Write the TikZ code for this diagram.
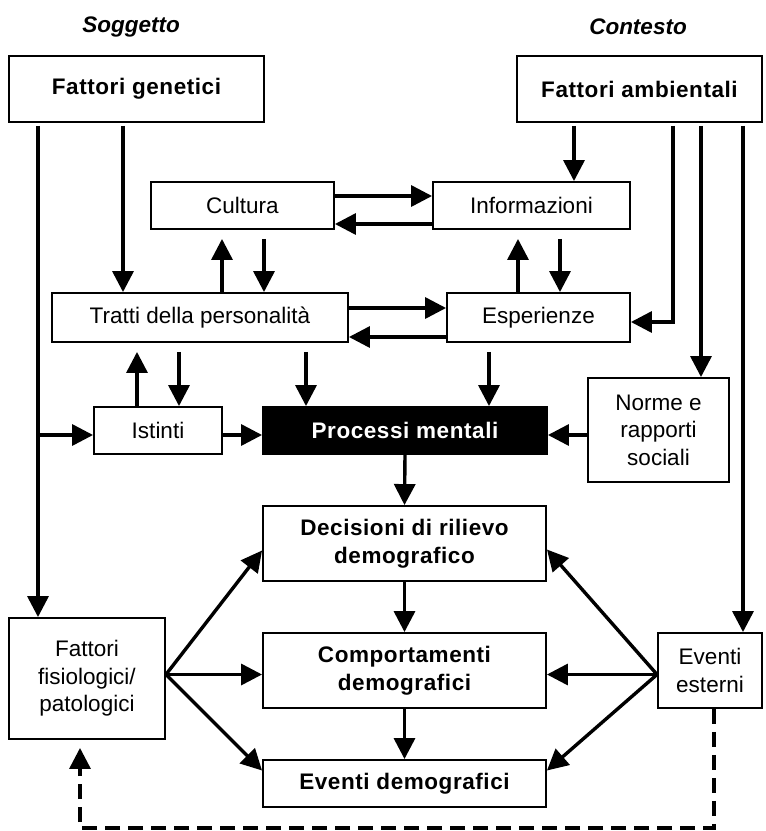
\documentclass[tikz,border=0pt]{standalone}
\usepackage{fontspec}
\setmainfont{Liberation Sans}
\usetikzlibrary{arrows.meta,calc}

\begin{document}
\begin{tikzpicture}[x=1pt,y=-1pt,
  box/.style={draw,line width=1.9pt,inner sep=0pt,align=center,
    font=\fontsize{22.5}{27.5}\selectfont},
  bbox/.style={box,font=\fontsize{22.5}{27.5}\selectfont\bfseries\addfontfeature{LetterSpace=2.5}},
  head/.style={font=\fontsize{22.5}{27.5}\selectfont\bfseries\itshape},
  ar/.style={-{Triangle[length=21pt,width=21pt]},line width=3.4pt}]
\useasboundingbox (0,0) rectangle (766,831);

\node[head] (S) at (131,27) {Soggetto};
\node[head] (K) at (638,27) {Contesto};

\node[bbox,minimum width=255pt,minimum height=66pt] (G) at (136.5,89) {Fattori genetici};
\node[bbox,minimum width=245pt,minimum height=66pt] (Am) at (639.5,89) {Fattori ambientali};
\node[box,minimum width=183pt,minimum height=47pt] (C) at (242.5,205.5) {Cultura};
\node[box,minimum width=197pt,minimum height=47pt] (I) at (531.5,205.5) {Informazioni};
\node[box,minimum width=296pt,minimum height=49pt] (T) at (200,317.5) {Tratti della personalità};
\node[box,minimum width=183pt,minimum height=49pt] (E) at (538.5,317.5) {Esperienze};
\node[box,minimum width=128pt,minimum height=47pt] (Is) at (158,430.5) {Istinti};
\node[bbox,fill=black,text=white,minimum width=284pt,minimum height=47pt] (P) at (405,430.5) {Processi mentali};
\node[box,minimum width=141pt,minimum height=104pt] (N) at (658.5,430) {Norme e\\rapporti\\sociali};
\node[bbox,minimum width=283pt,minimum height=75pt] (D) at (404.5,543.5) {Decisioni di rilievo\\demografico};
\node[bbox,minimum width=283pt,minimum height=75pt] (Co) at (404.5,670.5) {Comportamenti\\demografici};
\node[bbox,minimum width=283pt,minimum height=47pt] (Ev) at (404.5,783.5) {Eventi demografici};
\node[box,minimum width=156pt,minimum height=121pt] (F) at (87,678.5) {Fattori\\fisiologici/\\patologici};
\node[box,minimum width=104pt,minimum height=75pt] (X) at (710,670.5) {Eventi\\esterni};

% columns and rows of the connectors
\coordinate (xa) at (38,0);
\coordinate (xb) at (123,0);
\coordinate (xc) at (222,0);
\coordinate (xd) at (264,0);
\coordinate (xe) at (137,0);
\coordinate (xf) at (179,0);
\coordinate (xg) at (306,0);
\coordinate (xh) at (518,0);
\coordinate (xi) at (560,0);
\coordinate (xj) at (489,0);
\coordinate (xk) at (574,0);
\coordinate (xl) at (673,0);
\coordinate (xm) at (701,0);
\coordinate (xn) at (743,0);
\coordinate (xo) at (714,0);
\coordinate (xp) at (80,0);
\coordinate (r1) at (0,196);
\coordinate (r2) at (0,224);
\coordinate (r3) at (0,308);
\coordinate (r4) at (0,337);
\coordinate (r5) at (0,322);
\coordinate (r6) at (0,435);
\coordinate (r7) at (0,828);

\path[ar]
(G.south -| xa) edge[shorten <=3pt] (F.north -| xa)
(G.south -| xb) edge[shorten <=3pt] (T.north -| xb)
(xa |- r6) edge (Is.west |- r6)
(C.east |- r1) edge (I.west |- r1)
(I.west |- r2) edge (C.east |- r2)
(T.east |- r3) edge (E.west |- r3)
(E.west |- r4) edge (T.east |- r4)
(T.north -| xc) edge[shorten >=9pt] (C.south -| xc)
(C.south -| xd) edge[shorten <=9pt] (T.north -| xd)
(E.north -| xh) edge[shorten >=9pt] (I.south -| xh)
(I.south -| xi) edge[shorten <=9pt] (E.north -| xi)
(Is.north -| xe) edge[shorten >=9pt] (T.south -| xe)
(T.south -| xf) edge[shorten <=9pt] (Is.north -| xf)
(T.south -| xg) edge[shorten <=9pt] (P.north -| xg)
(E.south -| xj) edge[shorten <=9pt] (P.north -| xj)
(Is.east |- r6) edge (P.west |- r6)
(N.west |- r6) edge (P.east |- r6)
(Am.south -| xk) edge[shorten <=3pt] (I.north -| xk)
(Am.south -| xm) edge[shorten <=3pt] (N.north -| xm)
(Am.south -| xn) edge[shorten <=3pt] (X.north -| xn)
(P.south) edge (D.north)
(D.south) edge (Co.north)
(Co.south) edge (Ev.north)
([yshift=4pt]F.east) edge ([yshift=-7pt]D.west)
([yshift=4pt]F.east) edge ([yshift=-4pt]Co.west)
([yshift=4pt]F.east) edge ([yshift=13pt]Ev.west)
([yshift=-4pt]X.west) edge ([yshift=-6pt]D.east)
([yshift=-4pt]X.west) edge ([yshift=-4pt]Co.east)
([yshift=-4pt]X.west) edge ([yshift=13pt]Ev.east);

\draw[ar,shorten <=3pt] (Am.south -| xl) -- (xl |- r5) -- (E.east |- r5);
\draw[ar,dash pattern=on 15pt off 8pt,shorten >=8pt]
  (X.south -| xo) -- (xo |- r7) -- (xp |- r7) -- (F.south -| xp);
\end{tikzpicture}
\end{document}
